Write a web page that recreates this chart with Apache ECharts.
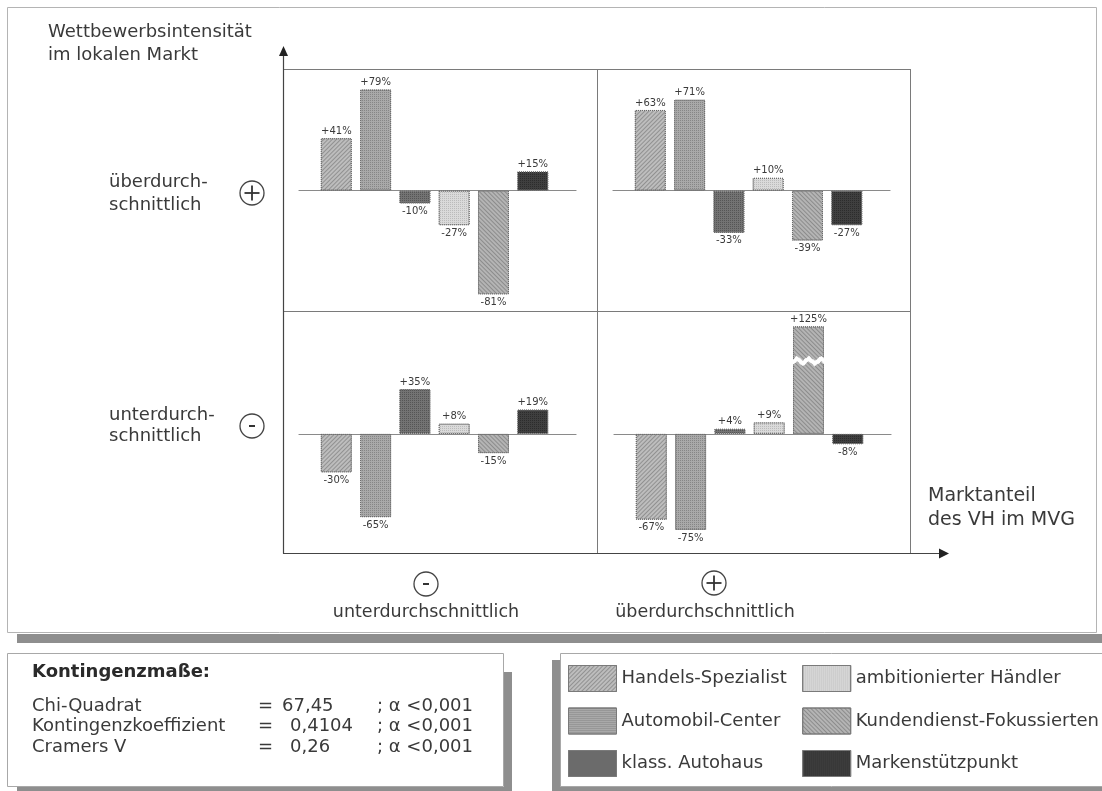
<!DOCTYPE html>
<html><head><meta charset="utf-8">
<script src="https://cdn.jsdelivr.net/npm/echarts@6/dist/echarts.min.js"></script>
<style>html,body{margin:0;padding:0;background:#fff}#c{width:1102px;height:791px}</style>
</head><body><div id="c"></div>
<script>
// ---------- data ----------
const types = ['Handels-Spezialist', 'Automobil-Center', 'klass. Autohaus', 'ambitionierter Händler', 'Kundendienst-Fokussierten', 'Markenstützpunkt'];
const topLeft = [41, 79, -10, -27, -81, 15];       // Markt -, Wettbewerb +
const topRight = [63, 71, -33, 10, -39, -27];      // Markt +, Wettbewerb +
const bottomLeft = [-30, -65, 35, 8, -15, 19];     // Markt -, Wettbewerb -
const bottomRight = [-67, -75, 4, 9, 125, -8];     // Markt +, Wettbewerb -
const yTitle = ['Wettbewerbsintensität', 'im lokalen Markt'];
const xTitle = ['Marktanteil', 'des VH im MVG'];
const rowHigh = ['überdurch-', 'schnittlich'];
const rowLow = ['unterdurch-', 'schnittlich'];
const colLow = 'unterdurchschnittlich';
const colHigh = 'überdurchschnittlich';
const statsTitle = 'Kontingenzmaße:';
const statNames = ['Chi-Quadrat', 'Kontingenzkoeffizient', 'Cramers V'];
const statValues = ['67,45', '0,4104', '0,26'];
const statSig = ['; α <0,001', '; α <0,001', '; α <0,001'];

// ---------- styles ----------
const FONT = 'DejaVu Sans';
const TXT = '#3a3a3a';
const fills = ['#bdbdbd', '#a9a9a9', '#737373', '#dadada', '#b4b4b4', '#3f3f3f'];
const hatch = (rot, c) => ({symbol: 'rect', symbolSize: 1, dashArrayX: [1, 0], dashArrayY: [1, 2], rotation: rot, color: c});
const dots = (c) => ({symbol: 'rect', symbolSize: 1, dashArrayX: [1, 1], dashArrayY: [1, 1], rotation: 0, color: c});
const decals = [
  hatch(-Math.PI / 4, 'rgba(90,90,90,0.45)'),
  dots('rgba(70,70,70,0.35)'),
  dots('rgba(30,30,30,0.35)'),
  dots('rgba(130,130,130,0.35)'),
  hatch(Math.PI / 4, 'rgba(90,90,90,0.45)'),
  dots('rgba(0,0,0,0.3)')
];
const itemStyleFor = i => ({color: fills[i], decal: decals[i], borderColor: '#6a6a6a', borderWidth: 1, borderType: 'dotted'});

const quads = [topLeft, topRight, bottomLeft, bottomRight];
const gridPos = [{left: 299, top: 69}, {left: 613, top: 69}, {left: 299, top: 311}, {left: 614, top: 311}];
const yRanges = [{min: -94, max: 95}, {min: -94, max: 95}, {min: -93, max: 96}, {min: -93, max: 137}];

const grids = gridPos.map(g => ({left: g.left, top: g.top, width: 277, height: 242}));
grids.push({left: -200, top: -200, width: 10, height: 10}); // legend-only grid

const xAxes = grids.map((g, i) => ({
  type: 'value', gridIndex: i, min: -0.95, max: 6.1, show: i < 4,
  axisLine: {show: true, onZero: true, lineStyle: {color: '#8a8a8a', width: 1.2}},
  axisTick: {show: false}, axisLabel: {show: false}, splitLine: {show: false}
}));
const yAxes = grids.map((g, i) => {
  const a = {
    type: 'value', gridIndex: i, show: i < 4,
    axisLine: {show: false}, axisTick: {show: false}, axisLabel: {show: false}, splitLine: {show: false}
  };
  if (i < 4) { a.min = yRanges[i].min; a.max = yRanges[i].max; }
  if (i === 3) {
    a.breaks = [{start: 55, end: 100, gap: 4}];
    a.breakArea = {show: true, expandOnClick: false, zigzagAmplitude: 2.5, zigzagMinSpan: 4, zigzagMaxSpan: 7, zigzagZ: 100,
      itemStyle: {color: '#ffffff', borderColor: '#ffffff', borderWidth: 1, opacity: 1}};
  }
  return a;
});

const series = quads.map((vals, q) => ({
  type: 'bar', xAxisIndex: q, yAxisIndex: q, barWidth: 31, silent: true,
  data: vals.map((v, i) => ({
    value: [i, v], itemStyle: itemStyleFor(i),
    label: {position: v >= 0 ? 'top' : 'bottom', distance: v >= 0 ? 2 : 3}
  })),
  label: {show: true, fontFamily: FONT, fontSize: 10, color: TXT,
    formatter: p => (p.value[1] > 0 ? '+' : '') + p.value[1] + '%'},
  emphasis: {disabled: true}
}));
types.forEach((t, i) => series.push({
  type: 'bar', name: t, xAxisIndex: 4, yAxisIndex: 4, data: [], itemStyle: itemStyleFor(i)
}));

// ---------- decorations ----------
const SH = '#8e8e8e';
const line = (x1, y1, x2, y2, c, w, z) => ({type: 'line', z: z || 5, silent: true, shape: {x1, y1, x2, y2}, style: {stroke: c, lineWidth: w}});
const txt = (text, x, y, size, opts) => Object.assign({type: 'text', z: 6, silent: true,
  style: Object.assign({text, x, y, fill: TXT, font: size + 'px "' + FONT + '"', align: 'left', verticalAlign: 'middle'}, opts || {})});
const circ = (cx, cy, plus) => {
  const els = [{type: 'circle', z: 6, silent: true, shape: {cx, cy, r: 12}, style: {fill: '#fff', stroke: '#444', lineWidth: 1.3}}];
  if (plus) {
    els.push(line(cx - 7.5, cy, cx + 7.5, cy, '#333', 1.8, 7));
    els.push(line(cx, cy - 7.5, cx, cy + 7.5, '#333', 1.8, 7));
  } else {
    els.push(line(cx - 3, cy, cx + 3, cy, '#333', 2, 7));
  }
  return els;
};

const graphics = [
  // outer panel + shadow band
  {type: 'rect', z: -10, silent: true, shape: {x: 7.5, y: 7.5, width: 1089, height: 625}, style: {fill: '#fff', stroke: '#b4b4b4', lineWidth: 1}},
  {type: 'rect', z: -10, silent: true, shape: {x: 17, y: 634, width: 1085, height: 9}, style: {fill: SH}},
  // statistics box
  {type: 'rect', z: -9, silent: true, shape: {x: 504, y: 672, width: 8, height: 119}, style: {fill: SH}},
  {type: 'rect', z: -9, silent: true, shape: {x: 17, y: 787, width: 495, height: 4}, style: {fill: SH}},
  {type: 'rect', z: -8, silent: true, shape: {x: 7.5, y: 653.5, width: 496, height: 133}, style: {fill: '#fff', stroke: '#a8a8a8', lineWidth: 1}},
  // legend box
  {type: 'rect', z: -9, silent: true, shape: {x: 552, y: 660, width: 9, height: 131}, style: {fill: SH}},
  {type: 'rect', z: -9, silent: true, shape: {x: 552, y: 787, width: 560, height: 4}, style: {fill: SH}},
  {type: 'rect', z: -8, silent: true, shape: {x: 560.5, y: 653.5, width: 560, height: 133}, style: {fill: '#fff', stroke: '#a8a8a8', lineWidth: 1}},
  // quadrant frame
  line(283, 69.5, 911, 69.5, '#7a7a7a', 1),
  line(910.5, 69, 910.5, 553, '#7a7a7a', 1),
  line(597.5, 69, 597.5, 553, '#7a7a7a', 1),
  line(283, 311.5, 911, 311.5, '#7a7a7a', 1),
  // axes with arrows
  line(283.5, 553.5, 283.5, 54, '#444', 1.2),
  {type: 'polygon', z: 6, silent: true, shape: {points: [[283.5, 46], [279, 56], [288, 56]]}, style: {fill: '#222'}},
  line(283, 553.5, 941, 553.5, '#444', 1.2),
  {type: 'polygon', z: 6, silent: true, shape: {points: [[949, 553.5], [939, 548.5], [939, 558.5]]}, style: {fill: '#222'}},
  // axis titles
  txt(yTitle[0], 48, 32, 18),
  txt(yTitle[1], 48, 55, 18),
  txt(xTitle[0], 928, 496, 19),
  txt(xTitle[1], 928, 520, 19),
  // row labels
  txt(rowHigh[0], 109, 182, 18),
  txt(rowHigh[1], 109, 205, 18),
  txt(rowLow[0], 109, 415, 18),
  txt(rowLow[1], 109, 436, 18),
  ...circ(252, 193, true),
  ...circ(252, 426, false),
  // column labels
  ...circ(426, 584, false),
  ...circ(714, 583, true),
  txt(colLow, 426, 612, 17.5, {align: 'center'}),
  txt(colHigh, 705, 612, 17.5, {align: 'center'}),
  // statistics
  txt(statsTitle, 32, 672, 18, {font: 'bold 18px "' + FONT + '"', fill: '#2a2a2a'})
];
statNames.forEach((n, i) => {
  const y = 706 + i * 20.5;
  graphics.push(txt(n, 32, y, 18));
  graphics.push(txt('=', 258, y, 18));
  graphics.push(txt(statValues[i], i === 0 ? 282 : 290, y, 18));
  graphics.push(txt(statSig[i], 377, y, 18));
});

const chart = echarts.init(document.getElementById('c'), null, {renderer: 'canvas'});
chart.setOption({
  animation: false,
  backgroundColor: '#fff',
  grid: grids,
  xAxis: xAxes,
  yAxis: yAxes,
  legend: {
    data: types, orient: 'vertical', left: 568, top: 665, height: 118, padding: 0,
    itemWidth: 48, itemHeight: 26, itemGap: 15.5, icon: 'rect', selectedMode: false,
    itemStyle: {borderColor: '#7a7a7a', borderWidth: 1},
    textStyle: {fontFamily: FONT, fontSize: 18, color: TXT, padding: [0, 8, 0, 0]}
  },
  series: series,
  graphic: {elements: graphics}
});
</script></body></html>
